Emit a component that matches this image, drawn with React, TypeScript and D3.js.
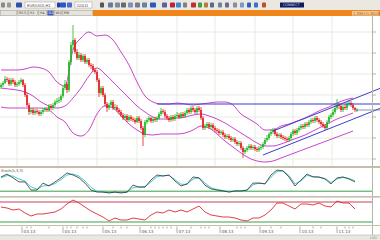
import React from "react";
import * as d3 from "d3";

// ---- price candles (one per trading day) ----
const opens = [83,85,87,91,90,86,90,88,85,86, 88,90,85,75,65,58,60,57,59,58, 56,58,60,61,60,64,62,65,68,69, 70,74,82,86,80,108,125,130,118,112, 115,110,114,108,110,105,104,100,98,90, 77,82,75,66,62,65,68,62,63,60, 58,55,52,54,50,53,51,50,48,52, 49,42,35,48,50,52,49,51,50,52, 56,59,58,54,52,50,53,51,54,55, 53,56,54,57,60,58,62,60,58,62, 60,52,42,44,46,43,45,42,40,39, 37,38,35,33,34,32,30,31,28,26, 27,22,18,20,22,24,22,23,21,20, 22,23,26,30,32,36,38,40,36,34, 35,33,32,31,30,32,36,39,37,40, 42,44,43,46,45,48,50,49,52,50, 48,46,44,42,48,53,55,58,62,65, 64,60,63,62,66,67,65,62,60];
const highs = [87,89,94,93,92,92,92,90,88,90, 92,91,87,77,67,62,62,61,61,60, 60,62,63,63,66,66,67,70,72,73, 76,84,90,88,110,128,145,132,121,118, 117,116,116,112,112,107,106,102,100,92, 84,84,77,68,67,70,70,66,65,62, 60,57,56,56,55,55,53,52,54,54, 51,44,50,52,54,53,53,53,54,58, 62,61,60,56,54,55,55,56,58,57, 58,58,59,62,62,64,64,62,64,64, 63,54,46,48,48,47,47,44,42,41, 40,40,37,36,36,34,33,33,30,29, 29,24,22,24,26,26,25,25,23,24, 25,28,32,35,38,41,42,42,38,37, 37,35,34,33,34,38,41,41,42,44, 46,46,48,48,50,52,52,54,54,52, 50,48,46,50,55,57,61,66,71,67, 66,65,66,69,70,69,67,63,62];
const lows = [81,83,86,88,84,84,86,83,83,84, 86,83,73,63,55,56,55,55,56,54, 54,56,58,58,58,60,60,63,66,67, 68,72,80,77,78,105,120,116,110,110, 108,108,106,106,103,101,98,96,88,73, 75,73,64,58,60,63,60,60,58,56, 53,50,50,48,48,49,48,46,47,47, 40,24,33,46,48,47,47,48,48,50, 54,56,52,50,48,48,49,49,52,51, 51,52,52,55,56,56,58,56,56,58, 50,40,40,42,41,41,40,38,37,35, 35,33,31,31,30,28,28,26,24,24, 20,12,16,18,20,20,20,19,18,18, 20,21,24,28,30,34,36,34,32,32, 31,30,29,28,28,30,34,35,35,38, 40,41,41,43,43,46,47,47,48,46, 44,42,40,40,46,51,53,56,60,61, 58,58,60,60,64,63,60,58,58];
const closes = [85,87,91,90,86,90,88,85,86,88, 90,85,75,65,58,60,57,59,58,56, 58,60,61,60,64,62,65,68,69,70, 74,82,86,80,108,125,130,118,112,115, 110,114,108,110,105,104,100,98,90,77, 82,75,66,62,65,68,62,63,60,58, 55,52,54,50,53,51,50,48,52,49, 42,35,48,50,52,49,51,50,52,56, 59,58,54,52,50,53,51,54,55,53, 56,54,57,60,58,62,60,58,62,60, 52,42,44,46,43,45,42,40,39,37, 38,35,33,34,32,30,31,28,26,27, 22,18,20,22,24,22,23,21,20,22, 23,26,30,32,36,38,40,36,34,35, 33,32,31,30,32,36,39,37,40,42, 44,43,46,45,48,50,49,52,50,48, 46,44,42,48,53,55,58,62,65,64, 60,63,62,66,67,65,62,60,60];

// ---- Bollinger bands, one sample every 4 candles ----
const bandStep = 4;
const upperBand = [100,100,100,101,103,102,98,88,84,120, 132,138,134,135,130,118,105,88,74,68, 66,66,67,66,65,66,67,68,68,65, 56,51,46,40,40,44,46,49,52,56, 60,63,67,70,72];
const midBand = [82,81,80,78,74,68,64,62,64,72, 82,94,102,96,88,80,72,64,58,53, 51,51,52,53,55,56,54,51,47,42, 37,32,27,24,24,26,29,32,35,39, 43,47,51,54,57];
const lowerBand = [63,62,62,62,62,62,60,53,48,37, 34,40,56,64,62,54,46,40,36,35, 36,36,36,37,40,44,42,36,29,23, 17,12,9,8,9,12,15,18,21,24, 27,30,33,36,39];

// ---- oscillators, one sample every 3 candles ----
const oscStep = 3;
const stochK = [69,79,66,52,52,24,24,48,38,52, 66,83,76,66,48,24,17,17,14,17, 14,17,41,34,34,59,76,72,76,55, 38,45,69,66,41,28,24,21,17,21, 21,24,48,48,45,76,93,90,69,38, 59,79,69,69,62,45,66,69,62,52];
const stochD = [66,74,72,62,55,35,27,38,40,46, 60,76,79,72,55,33,20,17,15,16, 15,16,32,35,36,52,70,74,74,60, 44,44,62,66,48,32,26,22,18,20, 21,23,42,48,46,68,88,90,74,45, 55,74,71,68,64,50,62,68,64,56];
const rsiVals = [60,58,54,56,48,42,46,46,48,50, 56,66,74,68,60,52,46,40,32,38, 34,34,38,36,34,44,50,48,54,50, 54,50,56,62,50,44,42,40,40,38, 34,32,38,38,44,54,68,68,62,56, 66,66,64,68,62,60,72,68,68,56];
const stochLevel = 20;
const rsiLevels = { upper: 70, lower: 30 };

// ---- trend lines drawn by the user: [candle index, price] ----
const channelUpper: [number, number][] = [[136, 39], [190, 82]];
const channelLower: [number, number][] = [[131, 15], [190, 62]];
const resistance: [number, number][] = [[78, 66], [190, 66]];
const lastPrice: [number, number][] = [[177.5, 60], [190, 60]];

// ---- axes ----
const priceTicks = [11, 32, 53, 75, 96, 117, 138];
const gridIdx = [8, 28.5, 48, 68, 88, 107, 127, 146, 165.5];
const monthLabels = ["03.13", "04.13", "05.13", "06.13", "07.13", "08.13", "09.13", "10.13", "11.13"];
const monthIdx = [10.5, 31, 51, 69.5, 88, 109.5, 129.5, 149.5, 168];
const minorTickIdx = [13, 15, 24, 33, 35, 38, 41, 43, 56, 60, 63, 75, 77, 79, 81, 83, 85, 95, 100, 102, 104, 118, 120, 122, 135, 140, 156, 160, 172, 174, 176];

const FONT = "DejaVu Sans, sans-serif";

export default function App() {
  const x = d3.scaleLinear().domain([0, 190]).range([1, 381]);
  const y = d3.scaleLinear().domain([4, 154]).range([166, 16]);
  const ys = d3.scaleLinear().domain([0, 100]).range([197, 168]);
  const yr = d3.scaleLinear().domain([0, 100]).range([237, 187]);

  const band = (arr: number[]) =>
    d3.line<number>().x((_, i) => x(i * bandStep)).y((v) => y(v)).curve(d3.curveMonotoneX)(arr) || "";
  const osc = (arr: number[], sc: d3.ScaleLinear<number, number>) =>
    d3.line<number>().x((_, i) => x(i * oscStep)).y((v) => sc(v)).curve(d3.curveLinear)(arr) || "";
  const seg = (pts: [number, number][]) =>
    d3.line<[number, number]>().x((d) => x(d[0])).y((d) => y(d[1]))(pts) || "";

  const up = "#1fb51f";
  const down = "#e31b1b";
  const bandColor = "#cc44cc";
  const trendColor = "#3c3cd0";
  const grid = "#dfe9d8";

  // toolbar decorations
  const icons = [
    { x: 1, w: 4, c: "#8a8a8a" }, { x: 7, w: 4, c: "#9a9a9a" }, { x: 16, w: 6, c: "#3050b0" },
    { x: 57, w: 3, c: "#2040a0" }, { x: 60, w: 6, c: "#2b55c8" }, { x: 67, w: 5, c: "#4a6ad0" },
    { x: 100, w: 4, c: "#555" }, { x: 108, w: 5, c: "#6a7a9a" }, { x: 115, w: 5, c: "#7a8aa8" },
    { x: 121, w: 5, c: "#6a6a6a" }, { x: 128, w: 5, c: "#8090b0" }, { x: 135, w: 5, c: "#7a7a8a" },
    { x: 142, w: 5, c: "#6a80a0" }, { x: 150, w: 6, c: "#2a5ac0" }, { x: 162, w: 5, c: "#6060a0" },
    { x: 170, w: 5, c: "#c02040" }, { x: 176, w: 5, c: "#3a8ad0" }, { x: 183, w: 4, c: "#808080" },
    { x: 191, w: 5, c: "#c03030" }, { x: 198, w: 4, c: "#40a040" }, { x: 204, w: 4, c: "#b08030" },
    { x: 210, w: 4, c: "#5a6a8a" }, { x: 218, w: 4, c: "#7080a0" }, { x: 225, w: 4, c: "#6a6a9a" },
    { x: 233, w: 4, c: "#8a8aa0" }, { x: 240, w: 4, c: "#7a9ac0" }, { x: 247, w: 4, c: "#3060c0" },
    { x: 254, w: 4, c: "#3a70d0" }, { x: 262, w: 4, c: "#c05030" },
  ];
  const tabs = [
    { x: 0, w: 16, t: "" }, { x: 17, w: 10, t: "M15" }, { x: 28, w: 9, t: "H1" },
    { x: 38, w: 8, t: "H4" }, { x: 47, w: 6, t: "D1" }, { x: 54, w: 7, t: "W1" }, { x: 62, w: 30, t: "MN" },
  ];

  return (
    <svg width={380} height={240} style={{ position: "fixed", left: 0, top: 0, display: "block" }} fontFamily={FONT}>
      <defs>
        <clipPath id="mainClip"><rect x={0} y={16} width={380} height={150} /></clipPath>
        <clipPath id="p1Clip"><rect x={0} y={168} width={372} height={28} /></clipPath>
        <clipPath id="p2Clip"><rect x={0} y={198} width={372} height={27} /></clipPath>
      </defs>
      <rect width={380} height={240} fill="#ffffff" />

      {/* toolbar */}
      <rect x={0} y={0} width={380} height={10} fill="#ebe8e2" />
      {icons.map((ic, i) => (
        <rect key={i} x={ic.x} y={2.5} width={ic.w} height={5} fill={ic.c} rx={0.8} />
      ))}
      <rect x={25} y={2} width={30} height={6} fill="#ffffff" stroke="#a0a0a0" strokeWidth={0.5} />
      <text x={27} y={6.6} fontSize={3.8} fill="#444">EUR/USD,H1</text>
      <rect x={75} y={2} width={17} height={6} fill="#ffffff" stroke="#a0a0a0" strokeWidth={0.5} />
      <text x={77} y={6.6} fontSize={3.8} fill="#444">GOLD</text>
      <rect x={280} y={2.5} width={24} height={5} fill="#101c5c" />
      <text x={283} y={6.3} fontSize={3.4} fill="#c8d0f0">CONNECT</text>

      {/* tab row */}
      <rect x={0} y={10} width={380} height={6} fill="#d9d6cf" />
      {tabs.map((t, i) => (
        <g key={i}>
          <rect x={t.x + 0.5} y={10.5} width={t.w} height={5} fill={t.t === "D1" ? "#3a58c8" : "#e6e3dc"} stroke="#9a978f" strokeWidth={0.4} />
          <text x={t.x + 1.5} y={14.4} fontSize={3.6} fill={t.t === "D1" ? "#fff" : "#444"}>{t.t}</text>
        </g>
      ))}
      <rect x={93} y={10} width={287} height={6} fill="#f0861a" />
      <rect x={352} y={11} width={27} height={4.5} fill="#f7c68f" />
      <text x={353} y={14.5} fontSize={3.6} fill="#7a5a3a">1.3357/1.3513</text>

      {/* main grid */}
      <g stroke={grid} strokeWidth={0.8}>
        {gridIdx.map((g, i) => (
          <line key={"v" + i} x1={x(g)} x2={x(g)} y1={16} y2={166} />
        ))}
        {priceTicks.map((p, i) => (
          <line key={"h" + i} x1={0} x2={372} y1={y(p)} y2={y(p)} />
        ))}
      </g>

      <g clipPath="url(#mainClip)">
        {/* Bollinger bands */}
        <path d={band(upperBand)} fill="none" stroke={bandColor} strokeWidth={1} />
        <path d={band(midBand)} fill="none" stroke={bandColor} strokeWidth={1} />
        <path d={band(lowerBand)} fill="none" stroke={bandColor} strokeWidth={1} />

        {/* candles */}
        {closes.map((c, i) => {
          const o = opens[i];
          const col = c >= o ? up : down;
          const cx = x(i);
          const top = y(Math.max(o, c));
          const bot = y(Math.min(o, c));
          return (
            <g key={i}>
              <line x1={cx} x2={cx} y1={y(highs[i])} y2={y(lows[i])} stroke={col} strokeWidth={0.8} />
              <rect x={cx - 0.8} y={top} width={1.6} height={Math.max(0.8, bot - top)} fill={col} />
            </g>
          );
        })}

        {/* trend lines */}
        <path d={seg(resistance)} stroke={trendColor} strokeWidth={1} fill="none" />
        <path d={seg(channelUpper)} stroke={trendColor} strokeWidth={1} fill="none" />
        <path d={seg(channelLower)} stroke={trendColor} strokeWidth={1} fill="none" />
        <path d={seg(lastPrice)} stroke="#6a7a9a" strokeWidth={0.8} fill="none" />
      </g>

      {/* right price axis */}
      <line x1={372.5} x2={372.5} y1={16} y2={235} stroke="#b8b4a8" strokeWidth={1} />
      {priceTicks.map((p, i) => (
        <line key={i} x1={372.5} x2={376} y1={y(p)} y2={y(p)} stroke="#9a968c" strokeWidth={0.7} />
      ))}

      {/* panel separators */}
      <rect x={0} y={166} width={380} height={2} fill="#c4bda8" />
      <rect x={0} y={196} width={380} height={1.6} fill="#c4bda8" />
      <line x1={0} x2={380} y1={225.5} y2={225.5} stroke="#c4bda8" strokeWidth={1} />

      {/* stochastic panel */}
      <text x={1} y={172} fontSize={3.6} fill="#555">Stoch(5,3,3)</text>
      <line x1={0} x2={372} y1={ys(stochLevel)} y2={ys(stochLevel)} stroke="#3aa04a" strokeWidth={1} />
      <g clipPath="url(#p1Clip)">
        <path d={osc(stochD, ys)} fill="none" stroke="#30c8c8" strokeWidth={0.9} />
        <path d={osc(stochK, ys)} fill="none" stroke="#303030" strokeWidth={0.8} />
      </g>

      {/* RSI panel */}
      <line x1={0} x2={372} y1={yr(rsiLevels.upper)} y2={yr(rsiLevels.upper)} stroke="#c8405a" strokeWidth={1} />
      <line x1={0} x2={372} y1={yr(rsiLevels.lower)} y2={yr(rsiLevels.lower)} stroke="#3aa04a" strokeWidth={1} />
      <g clipPath="url(#p2Clip)">
        <path d={osc(rsiVals, yr)} fill="none" stroke="#e02838" strokeWidth={0.9} />
      </g>

      {/* time axis */}
      {minorTickIdx.map((m, i) => (
        <line key={i} x1={x(m)} x2={x(m)} y1={226.5} y2={228.5} stroke="#777" strokeWidth={0.6} />
      ))}
      {monthIdx.map((m, i) => (
        <g key={i}>
          <line x1={x(m)} x2={x(m)} y1={226.5} y2={233} stroke="#777" strokeWidth={0.6} />
          <text x={x(m) + 1.5} y={232.5} fontSize={4.2} fill="#555">{monthLabels[i]}</text>
        </g>
      ))}

      {/* status bar */}
      <rect x={0} y={235} width={380} height={5} fill="#e9e7e1" />
      <line x1={0} x2={380} y1={235} y2={235} stroke="#b8b4a8" strokeWidth={0.6} />
      <text x={370} y={239.2} fontSize={3.6} fill="#888">LIGI</text>
    </svg>
  );
}
